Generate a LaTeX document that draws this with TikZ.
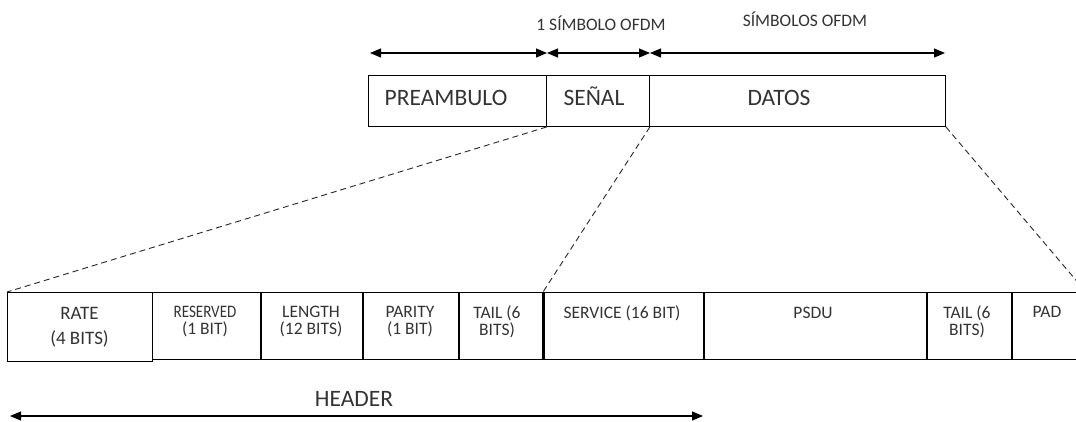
\documentclass[tikz,border=0pt]{standalone}
\usepackage{fontspec}
\usepackage{graphicx}
\setmainfont{Carlito}
\usetikzlibrary{arrows.meta}
\begin{document}
\begin{tikzpicture}[x=1pt,y=-1pt,
  topbox/.style={draw, line width=0.9pt, inner sep=0pt, anchor=north west, minimum height=51pt},
  cell/.style={draw, line width=1.1pt, inner sep=0pt, anchor=north west, minimum height=67pt},
  divider/.style={line width=2.2pt},
  bigtxt/.style={text=black!80, inner sep=0pt, anchor=base, font=\fontsize{23.5}{23.5}\selectfont},
  smalltxt/.style={text=black!80, inner sep=0pt, anchor=base, font=\fontsize{17.5}{17.5}\selectfont},
  celltxt/.style={text=black!80, inner sep=0pt, align=center, font=\fontsize{17.5}{17}\selectfont},
  dimline/.style={{Triangle[length=11pt,width=9pt]}-{Triangle[length=11pt,width=9pt]}, line width=1.2pt},
  zoomline/.style={dash pattern=on 6pt off 4pt, line width=0.9pt, black!85}]
\clip (0,0) rectangle (1076,421);
% top frame
\node[topbox, minimum width=178pt] (pre) at (368,75) {};
\node[topbox, minimum width=103pt] (senal) at (546,75) {};
\node[topbox, minimum width=296pt] (datos) at (649,75) {};
\node[bigtxt] (tpre) at (446,105) {PREAMBULO};
\node[bigtxt] (tsen) at (594,105) {SEÑAL};
\node[bigtxt] (tdat) at (779,105) {DATOS};
% dimension arrows
\coordinate (a0) at (370,53);
\coordinate (a1) at (547,53);
\coordinate (a2) at (650,53);
\coordinate (a3) at (945,53);
\draw[dimline] (a0) -- (a1);
\draw[dimline] (a1) -- (a2);
\draw[dimline] (a2) -- (a3);
\node[smalltxt] (l1) at (601,30) {1 SÍMBOLO OFDM};
\node[smalltxt] (l2) at (805,26) {SÍMBOLOS OFDM};
% bottom frame
\node[cell, minimum width=145pt, minimum height=69pt] (rate) at (7,292) {};
\node[cell, minimum width=108pt] (reserved) at (152,292) {};
\node[cell, minimum width=102pt] (length) at (260,292) {};
\node[cell, minimum width=96pt] (parity) at (362,292) {};
\node[cell, minimum width=85pt] (tail1) at (458,292) {};
\node[cell, minimum width=160pt] (service) at (543,292) {};
\node[cell, minimum width=223pt] (psdu) at (703,292) {};
\node[cell, minimum width=85pt] (tail2) at (926,292) {};
\node[cell, minimum width=80pt] (pad) at (1011,292) {};
\foreach \n in {reserved,length,parity,tail1,service,psdu,tail2}
  \draw[divider] (\n.north east) -- (\n.south east);
\draw[divider] (service.north west) -- (service.south west);
% cell texts
\node[celltxt, font=\fontsize{19}{25}\selectfont] (trate) at (79.5,327) {RATE\\(4 BITS)};
\node[celltxt] (tres) at (205,322) {\scalebox{0.86}[1]{RESERVED}\\(1 BIT)};
\node[celltxt] (tlen) at (311,322) {LENGTH\\(12 BITS)};
\node[celltxt] (tpar) at (410,322) {PARITY\\(1 BIT)};
\node[celltxt] (ttail1) at (497,322) {TAIL (6\\BITS)};
\node[celltxt, anchor=base] (tserv) at (622,318) {SERVICE (16 BIT)};
\node[celltxt, anchor=base] (tpsdu) at (813,318) {PSDU};
\node[celltxt] (ttail2) at (967,322) {TAIL (6\\BITS)};
\node[celltxt, anchor=base] (tpad) at (1047,317) {PAD};
% zoom lines
\coordinate (padend) at (1086,292);
\draw[zoomline] (pre.south east) -- (rate.north west);
\draw[zoomline] (senal.south east) -- (service.north west);
\draw[zoomline] (datos.south east) -- (padend);
% header
\coordinate (h0) at (10,416);
\coordinate (h1) at (703,416);
\draw[dimline] (h0) -- (h1);
\node[bigtxt] (thead) at (354,406) {HEADER};
\end{tikzpicture}
\end{document}
